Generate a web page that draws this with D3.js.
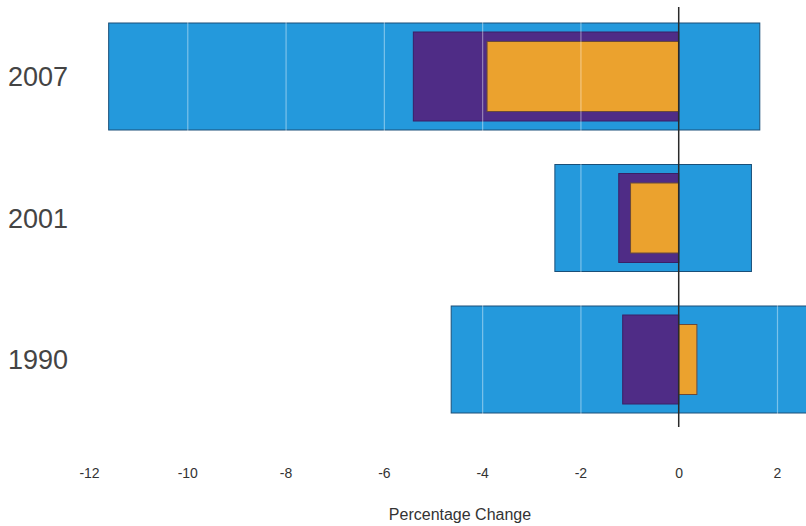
<!DOCTYPE html>
<html><head><meta charset="utf-8">
<script src="https://cdn.jsdelivr.net/npm/d3@7"></script>
<style>
html,body{margin:0;padding:0;background:#fff;}
svg{display:block;}
</style></head>
<body>
<script>
const years = ["2007", "2001", "1990"];
const outerLow = [-11.6, -2.52, -4.63];
const outerHigh = [1.65, 1.48, 2.8];
const middleLow = [-5.4, -1.22, -1.14];
const middleHigh = [0, 0, 0];
const innerLow = [-3.9, -0.98, 0];
const innerHigh = [0, 0, 0.37];
const tickValues = [-12, -10, -8, -6, -4, -2, 0, 2];
const axisTitle = "Percentage Change";

const W = 806, H = 526;
const svg = d3.select("body").append("svg").attr("width", W).attr("height", H);

const x = d3.scaleLinear().domain([-12, 2]).range([89, 777]);
const y = d3.scalePoint().domain(years).range([76.5, 359.5]);

const layers = [
  {lo: outerLow, hi: outerHigh, h: 107, fill: "#2499dc", stroke: "#1a4f78"},
  {lo: middleLow, hi: middleHigh, h: 89, fill: "#4f2c86", stroke: "#3a2066"},
  {lo: innerLow, hi: innerHigh, h: 70, fill: "#eba22e", stroke: "#6a4a3a"}
];

layers.forEach(L => {
  svg.append("g").selectAll("rect").data(years).join("rect")
    .attr("x", (d, i) => x(L.lo[i]))
    .attr("width", (d, i) => x(L.hi[i]) - x(L.lo[i]))
    .attr("y", d => y(d) - L.h / 2)
    .attr("height", L.h)
    .attr("fill", L.fill)
    .attr("stroke", L.stroke)
    .attr("stroke-width", 1);
});

// gridlines
svg.append("g").selectAll("line").data(tickValues.filter(t => t !== 0)).join("line")
  .attr("x1", d => x(d) + 0.5).attr("x2", d => x(d) + 0.5)
  .attr("y1", 8).attr("y2", 430)
  .attr("stroke", "#ffffff").attr("stroke-opacity", 0.4).attr("stroke-width", 1.2);

// zero line
svg.append("line")
  .attr("x1", x(0)).attr("x2", x(0))
  .attr("y1", 7).attr("y2", 427)
  .attr("stroke", "#2a2a2a").attr("stroke-width", 1.5);

// x axis labels
const xAxis = d3.axisBottom(x).tickValues(tickValues).tickSize(0).tickFormat(d => String(d));
const gx = svg.append("g").attr("transform", "translate(0,465)").call(xAxis);
gx.select(".domain").remove();
gx.selectAll("text")
  .attr("fill", "#333")
  .style("font-family", "'Liberation Sans Narrow', 'Liberation Sans', Arial, sans-serif")
  .style("font-stretch", "condensed")
  .style("font-size", "14px");

// y labels
svg.append("g").selectAll("text").data(years).join("text")
  .attr("x", 8).attr("y", d => y(d))
  .attr("dy", "0.36em")
  .attr("fill", "#444")
  .style("font-family", "'Liberation Sans', Arial, sans-serif")
  .style("font-size", "27px")
  .text(d => d);

svg.append("text")
  .attr("x", 460).attr("y", 520)
  .attr("text-anchor", "middle")
  .attr("fill", "#333")
  .style("font-family", "'Liberation Sans Narrow', 'Liberation Sans', Arial, sans-serif")
  .style("font-stretch", "condensed")
  .style("font-size", "16px")
  .text(axisTitle);
</script>
</body></html>
